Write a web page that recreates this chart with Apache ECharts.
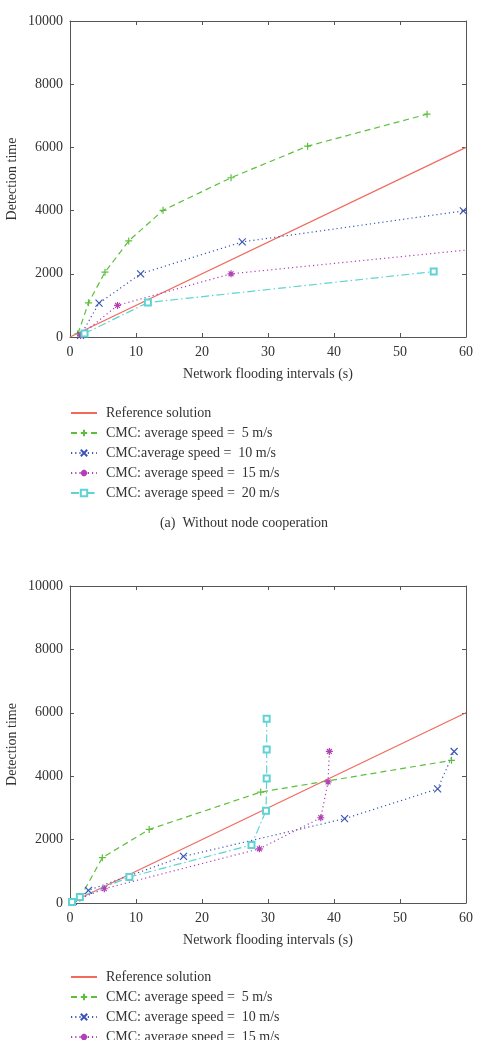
<!DOCTYPE html>
<html>
<head>
<meta charset="utf-8">
<script src="https://cdn.jsdelivr.net/npm/echarts@6/dist/echarts.min.js"></script>
<style>
html,body{margin:0;padding:0;background:#fff;overflow:hidden;}
#c{width:477px;height:1040px;}
</style>
</head>
<body>
<div id="c"></div>
<script>
// ---- Data ----
const xTicks = [0, 10, 20, 30, 40, 50, 60];
const yTicks = [0, 2000, 4000, 6000, 8000, 10000];

const refLine = [[0, 0], [60, 6000]];

// (a) Without node cooperation
const a_speed5  = [[1.2, 100], [2.8, 1080], [5.3, 2050], [8.9, 3040], [14.1, 4010], [24.4, 5040], [36.0, 6040], [54.1, 7050]];
const a_speed10 = [[1.6, 50], [4.4, 1070], [10.7, 2000], [26.1, 3010], [59.6, 3990]];
const a_speed15 = [[1.6, 50], [7.2, 1000], [24.4, 2000], [60.0, 2750]];
const a_speed20 = [[2.2, 110], [11.8, 1090], [55.1, 2070]];

// (b) With node cooperation
const b_speed5  = [[1.5, 150], [4.9, 1430], [12.0, 2320], [28.9, 3500], [57.8, 4500]];
const b_speed10 = [[0.5, 50], [2.8, 400], [17.2, 1470], [41.6, 2660], [55.7, 3600], [58.2, 4780]];
const b_speed15 = [[0.5, 50], [5.2, 450], [28.7, 1710], [38.0, 2690], [39.1, 3820], [39.3, 4780]];
const b_speed20 = [[0.3, 30], [1.5, 190], [9.0, 820], [27.5, 1830], [29.7, 2910], [29.8, 3930], [29.8, 4840], [29.8, 5810]];

const names = {
  ref: 'Reference solution',
  s5: 'CMC: average speed =  5 m/s',
  s10a: 'CMC:average speed =  10 m/s',
  s10b: 'CMC: average speed =  10 m/s',
  s15: 'CMC: average speed =  15 m/s',
  s20: 'CMC: average speed =  20 m/s'
};

// ---- Styles ----
const FONT = '"Liberation Serif", "DejaVu Serif", serif';
const TXT = '#333';
const AX = '#555';
const C = { ref: '#f06a5e', s5: '#5cbf3c', s10: '#3a55b5', s15: '#b13fb5', s20: '#5fd3d3' };
const SYM = {
  plus: 'path://M5,0L5,10M0,5L10,5',
  cross: 'path://M0,0L10,10M10,0L0,10',
  star: 'path://M5,0L5,10M0,5L10,5M1.5,1.5L8.5,8.5M8.5,1.5L1.5,8.5'
};

const chart = echarts.init(document.getElementById('c'), null, { renderer: 'canvas' });

const grids = [
  { left: 70, top: 21, width: 396, height: 316, containLabel: false, outerBoundsMode: 'none' },
  { left: 70, top: 586, width: 396, height: 317, containLabel: false, outerBoundsMode: 'none' }
];

function mainX(gi) {
  return {
    type: 'value', gridIndex: gi, min: 0, max: 60, interval: 10, position: 'bottom',
    name: 'Network flooding intervals (s)', nameLocation: 'middle', nameGap: 30,
    nameTextStyle: { fontFamily: FONT, fontSize: 14, color: TXT },
    axisLine: { show: true, onZero: false, lineStyle: { color: AX, width: 1 } },
    axisTick: { show: true, inside: true, length: 4, lineStyle: { color: AX } },
    axisLabel: { fontFamily: FONT, fontSize: 14, color: TXT, margin: 8, formatter: v => xTicks.includes(v) ? String(v) : '' },
    splitLine: { show: false }
  };
}
function topX(gi) {
  return {
    type: 'value', gridIndex: gi, min: 0, max: 60, interval: 10, position: 'top',
    axisLine: { show: true, onZero: false, lineStyle: { color: AX, width: 1 } },
    axisTick: { show: true, inside: true, length: 4, lineStyle: { color: AX } },
    axisLabel: { show: false }, splitLine: { show: false }
  };
}
function mainY(gi) {
  return {
    type: 'value', gridIndex: gi, min: 0, max: 10000, interval: 2000, position: 'left',
    name: 'Detection time', nameLocation: 'middle', nameGap: 51, nameMoveOverlap: false,
    nameTextStyle: { fontFamily: FONT, fontSize: 14, color: TXT },
    axisLine: { show: true, onZero: false, lineStyle: { color: AX, width: 1 } },
    axisTick: { show: true, inside: true, length: 4, lineStyle: { color: AX } },
    axisLabel: { fontFamily: FONT, fontSize: 14, color: TXT, margin: 7, formatter: v => yTicks.includes(v) ? String(v) : '' },
    splitLine: { show: false }
  };
}
function rightY(gi) {
  return {
    type: 'value', gridIndex: gi, min: 0, max: 10000, interval: 2000, position: 'right',
    axisLine: { show: true, onZero: false, lineStyle: { color: AX, width: 1 } },
    axisTick: { show: true, inside: true, length: 4, lineStyle: { color: AX } },
    axisLabel: { show: false }, splitLine: { show: false }
  };
}

function lineSeries(name, data, gi, color, dash, symbol, size, bw) {
  return {
    type: 'line', name, data, xAxisIndex: gi * 2, yAxisIndex: gi * 2,
    symbol: symbol, symbolSize: size, showSymbol: symbol !== 'none',
    animation: false, clip: false,
    lineStyle: { color, width: 1.2, type: dash },
    itemStyle: { color: color, borderColor: color, borderWidth: bw || 1.2 },
    emphasis: { disabled: true },
    z: 3
  };
}

function seriesFor(gi, d5, d10, d15, d20, n10) {
  const s15data = d15.map((p, i) => (gi === 0 && i === d15.length - 1) ? { value: p, symbol: 'none' } : p);
  return [
    lineSeries(names.ref, refLine, gi, C.ref, 'solid', 'none', 0),
    lineSeries(names.s5, d5, gi, C.s5, [6, 4], SYM.plus, 7),
    lineSeries(n10, d10, gi, C.s10, [1.2, 3], SYM.cross, 7),
    lineSeries(names.s15, s15data, gi, C.s15, [1.2, 3], SYM.star, 7),
    lineSeries(names.s20, d20, gi, C.s20, [8, 3, 1.5, 3], 'emptyRect', 6, 0.8)
  ];
}

function legendFor(top, n10) {
  return {
    orient: 'vertical', left: 70, top: top, height: 200, padding: 0,
    itemWidth: 26, itemHeight: 8, itemGap: 6,
    selectedMode: false,
    textStyle: { fontFamily: FONT, fontSize: 14, color: TXT, padding: [0, 0, 0, 4], lineHeight: 14 },
    data: [
      { name: names.ref, itemStyle: { color: 'rgba(0,0,0,0)', borderColor: 'rgba(0,0,0,0)' } },
      { name: names.s5 }, { name: n10 }, { name: names.s15 }, { name: names.s20 }
    ]
  };
}

chart.setOption({
  backgroundColor: '#fff',
  animation: false,
  grid: grids,
  xAxis: [mainX(0), topX(0), mainX(1), topX(1)],
  yAxis: [mainY(0), rightY(0), mainY(1), rightY(1)],
  legend: [legendFor(406, names.s10a), legendFor(970, names.s10b)],
  title: {
    text: '(a)  Without node cooperation', left: 239, top: 511, textAlign: 'center',
    textStyle: { fontFamily: FONT, fontSize: 14, fontWeight: 'normal', color: TXT }
  },
  series: [
    ...seriesFor(0, a_speed5, a_speed10, a_speed15, a_speed20, names.s10a),
    ...seriesFor(1, b_speed5, b_speed10, b_speed15, b_speed20, names.s10b)
  ]
});
</script>
</body>
</html>
